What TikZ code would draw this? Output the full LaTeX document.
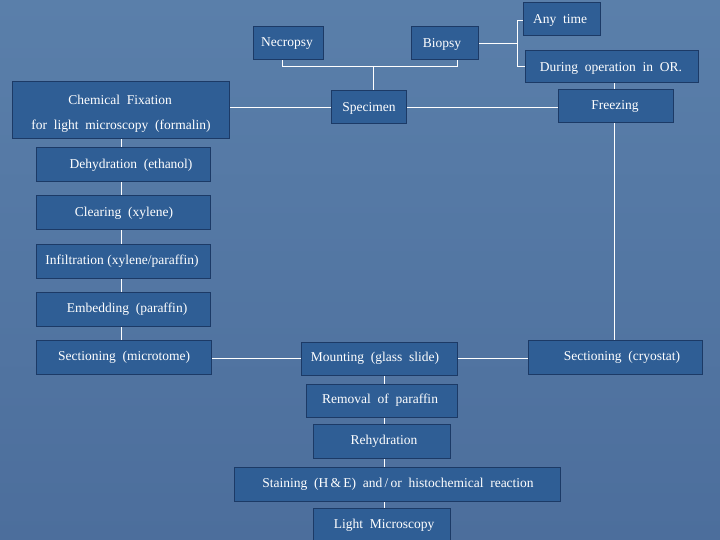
\documentclass[tikz,border=0pt]{standalone}
\usepackage{fontspec}
\setmainfont{Liberation Serif}
\definecolor{bgtop}{HTML}{5A7FAA}
\definecolor{bgbot}{HTML}{4C6E9C}
\definecolor{boxfill}{HTML}{2F5E95}
\definecolor{boxline}{HTML}{1C3A66}
\begin{document}
\begin{tikzpicture}[x=1pt,y=-1pt,
  bx/.style={draw=boxline,fill=boxfill,line width=1pt},
  tx/.style={text=white,font=\fontsize{13.5}{15}\selectfont,inner sep=0pt},
  ln/.style={draw=white,line width=0.8pt}]
\shade[top color=bgtop,bottom color=bgbot] (0,0) rectangle (720,540);
\useasboundingbox (0,0) rectangle (720,540);
% connectors first
\draw[ln] (282,60) -- (282,66) -- (457,66) -- (457,60);
\draw[ln] (373,66) -- (373,91);
\draw[ln] (478,43) -- (517,43);
\draw[ln] (525,20) -- (517,20) -- (517,66) -- (525,66);
\draw[ln] (614,83) -- (614,90);
\draw[ln] (229,107) -- (558,107);
\draw[ln] (614,123) -- (614,340);
\draw[ln] (121,139) -- (121,340);
\draw[ln] (211,358) -- (528,358);
\draw[ln] (384,375) -- (384,508);
% boxes
\path[bx] (523,3) rectangle (600,36); \node[tx] (any) at (560,20) {Any\ \ time};
\path[bx] (253,27) rectangle (323,60); \node[tx] (necropsy) at (287,44) {Necropsy};
\path[bx] (411,27) rectangle (478,60); \node[tx] (biopsy) at (442,44) {Biopsy};
\path[bx] (525,51) rectangle (698,83); \node[tx] (during) at (611,68) {During\ \ operation\ \ in\ \ OR.};
\path[bx] (12,82) rectangle (229,139);
\node[tx] (chem1) at (120,100) {Chemical\ \ Fixation};
\node[tx] (chem2) at (121,126) {for\ \ light\ \ microscopy\ \ (formalin)};
\path[bx] (331,91) rectangle (406,124); \node[tx] (specimen) at (369,108) {Specimen};
\path[bx] (558,90) rectangle (673,123); \node[tx] (freezing) at (615,106) {Freezing};
\path[bx] (36,148) rectangle (210,182); \node[tx] (dehyd) at (131,165) {Dehydration\ \ (ethanol)};
\path[bx] (36,196) rectangle (210,230); \node[tx] (clear) at (124,213) {Clearing\ \ (xylene)};
\path[bx] (36,244) rectangle (210,278); \node[tx] (infil) at (122,261) {Infiltration\ (xylene/paraffin)};
\path[bx] (36,292) rectangle (210,326); \node[tx] (embed) at (127,309) {Embedding\ \ (paraffin)};
\path[bx] (36,340) rectangle (211,374); \node[tx] (secm) at (124,357) {Sectioning\ \ (microtome)};
\path[bx] (301,342) rectangle (457,375); \node[tx] (mount) at (375,358) {Mounting\ \ (glass\ \ slide)};
\path[bx] (528,340) rectangle (702,374); \node[tx] (secc) at (622,357) {Sectioning\ \ (cryostat)};
\path[bx] (306,384) rectangle (457,417); \node[tx] (remov) at (380,400) {Removal\ \ of\ \ paraffin};
\path[bx] (313,424) rectangle (450,458); \node[tx] (rehyd) at (384,441) {Rehydration};
\path[bx] (234,467) rectangle (560,501); \node[tx] (stain) at (398,484) {Staining\ \ (H\,\&\,E)\ \ and\,/\,or\ \ histochemical\ \ reaction};
\path[bx] (313,508) rectangle (450,545); \node[tx] (lm) at (384,525) {Light\ \ Microscopy};
\end{tikzpicture}
\end{document}
